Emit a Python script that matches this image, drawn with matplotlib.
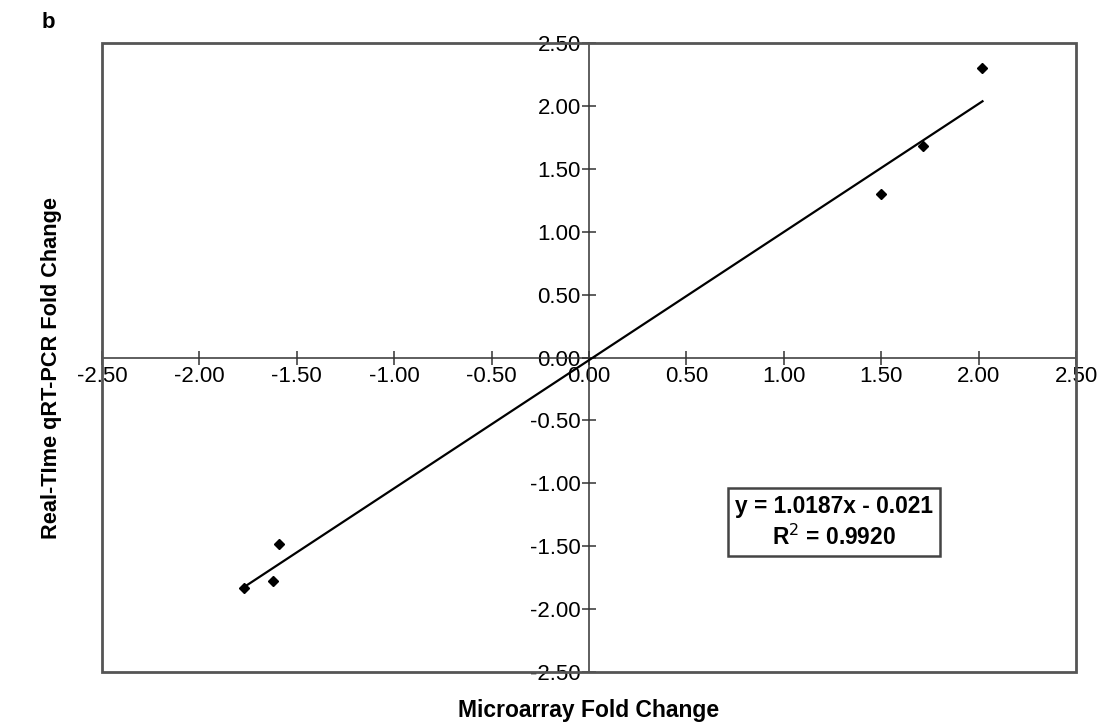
import numpy as np
import matplotlib.pyplot as plt
from matplotlib.patches import Rectangle

plt.rcParams['font.family'] = ['Liberation Sans', 'DejaVu Sans']

# values
microarray = [2.02, 1.715, 1.50, -1.59, -1.62, -1.77]
qrtpcr = [2.30, 1.68, 1.30, -1.48, -1.78, -1.83]
slope, intercept = 1.0187, -0.021
r2_text = "0.9920"
ticks = [-2.5, -2.0, -1.5, -1.0, -0.5, 0.0, 0.5, 1.0, 1.5, 2.0, 2.5]

fig = plt.figure(figsize=(11.02, 7.25), dpi=100)
W, H = 1102, 725
ax = fig.add_axes([102 / W, 1 - 672 / H, (1076 - 102) / W, (672 - 43) / H])

ax.set_xlim(-2.5, 2.5)
ax.set_ylim(-2.5, 2.5)

# axes cross at zero, like the Excel chart
for side in ['top', 'right']:
    ax.spines[side].set_visible(False)
ax.spines['left'].set_position('zero')
ax.spines['bottom'].set_position('zero')
for side in ['left', 'bottom']:
    ax.spines[side].set_color('#333333')
    ax.spines[side].set_linewidth(1.1)
ax.add_patch(Rectangle((0, 0), 1, 1, transform=ax.transAxes, fill=False,
                       edgecolor='#555555', linewidth=2, clip_on=False, zorder=5))

ax.set_xticks(ticks)
ax.set_yticks(ticks)
ax.set_xticklabels([f"{t:.2f}" for t in ticks])
ax.set_yticklabels([f"{t:.2f}" for t in ticks])
ax.tick_params(direction='inout', length=10, width=1.1, color='#333333',
               labelsize=16, pad=1)

# trendline
xs = np.array([min(microarray), max(microarray)])
ax.plot(xs, slope * xs + intercept, color='black', linewidth=1.6, zorder=3)
ax.plot(microarray, qrtpcr, linestyle='none', marker='D', markersize=5.5,
        color='black', zorder=4)

ax.text(0.7515, 0.238, f"y = {slope}x - {abs(intercept)}\nR$^2$ = {r2_text}",
        transform=ax.transAxes, ha='center', va='center', fontsize=16.4,
        fontweight='bold', linespacing=1.3,
        bbox=dict(boxstyle='square,pad=0.3', facecolor='white',
                  edgecolor='#444444', linewidth=1.8))

fig.text(589 / W, 1 - 710 / H, "Microarray Fold Change", ha='center',
         va='center', fontsize=16.5, fontweight='bold')
fig.text(52 / W, 1 - 368 / H, "Real-TIme qRT-PCR Fold Change", ha='center',
         va='center', rotation=90, fontsize=15.7, fontweight='bold')
fig.text(48 / W, 1 - 22 / H, "b", ha='center', va='center', fontsize=16,
         fontweight='bold')

fig.savefig('out.png', dpi=100)
